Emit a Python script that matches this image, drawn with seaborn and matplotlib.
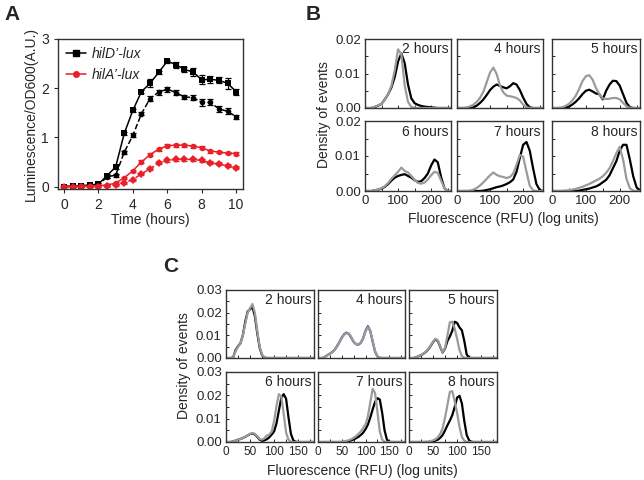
import matplotlib
matplotlib.use("Agg")
import matplotlib.pyplot as plt
from matplotlib.lines import Line2D
from matplotlib.ticker import MultipleLocator
import seaborn as sns

# ---- data -------------------------------------------------------------
# Panel A: luminescence time course
time_h = [0, 0.5, 1, 1.5, 2, 2.5, 3, 3.5, 4, 4.5, 5, 5.5, 6, 6.5, 7, 7.5, 8, 8.5, 9, 9.5, 10]
hilD_solid = [0.0, 0.01, 0.02, 0.03, 0.05, 0.22, 0.40, 1.08, 1.55, 1.93, 2.10, 2.32, 2.55, 2.48,
              2.38, 2.33, 2.17, 2.18, 2.16, 2.10, 1.93]
hilD_solid_err = [0.01, 0.01, 0.01, 0.01, 0.02, 0.04, 0.04, 0.03, 0.03, 0.03, 0.08, 0.03, 0.03, 0.06,
                  0.05, 0.08, 0.09, 0.07, 0.06, 0.11, 0.06]
hilD_dash = [0.0, 0.0, 0.01, 0.02, 0.03, 0.20, 0.23, 0.70, 1.04, 1.48, 1.79, 1.92, 1.98, 1.91,
             1.82, 1.81, 1.71, 1.71, 1.58, 1.53, 1.42]
hilD_dash_err = [0.01, 0.01, 0.01, 0.01, 0.01, 0.03, 0.03, 0.03, 0.04, 0.03, 0.06, 0.05, 0.05, 0.05,
                 0.05, 0.06, 0.07, 0.06, 0.06, 0.06, 0.04]
hilA_solid = [0.0, 0.0, 0.01, 0.01, 0.02, 0.03, 0.07, 0.18, 0.32, 0.50, 0.65, 0.76, 0.83, 0.84,
              0.84, 0.82, 0.79, 0.72, 0.70, 0.68, 0.67]
hilA_solid_err = [0.01, 0.01, 0.01, 0.01, 0.01, 0.01, 0.02, 0.02, 0.02, 0.03, 0.03, 0.03, 0.03, 0.03,
                  0.03, 0.03, 0.03, 0.03, 0.02, 0.02, 0.03]
hilA_dash = [0.0, 0.0, 0.0, 0.0, 0.0, 0.01, 0.04, 0.08, 0.14, 0.26, 0.36, 0.48, 0.53, 0.55,
             0.55, 0.55, 0.53, 0.48, 0.46, 0.42, 0.38]
hilA_dash_err = [0.01, 0.01, 0.01, 0.01, 0.01, 0.01, 0.02, 0.02, 0.02, 0.02, 0.03, 0.03, 0.03, 0.03,
                 0.03, 0.03, 0.03, 0.03, 0.03, 0.03, 0.03]

# Panel B: flow histograms, fluorescence 0..260 step 10
fluo_B = list(range(0, 261, 10))
hours_B = ["2 hours", "4 hours", "5 hours", "6 hours", "7 hours", "8 hours"]
black_B = [
    [0, 0, 0, 0.0003, 0.0007, 0.0012, 0.0025, 0.004, 0.006, 0.009, 0.0135, 0.0158, 0.013, 0.0068,
     0.0028, 0.0014, 0.0009, 0.0006, 0.0004, 0.0003, 0.0002, 0.0001, 0, 0, 0, 0, 0],
    [0, 0, 0, 0, 0, 0.0002, 0.0007, 0.0015, 0.0025, 0.0038, 0.0052, 0.0062, 0.0068, 0.0064,
     0.006, 0.0057, 0.0063, 0.0072, 0.0068, 0.0052, 0.003, 0.0012, 0.0002, 0, 0, 0, 0],
    [0, 0, 0, 0, 0.0001, 0.0004, 0.001, 0.0018, 0.0028, 0.004, 0.005, 0.0053, 0.0048, 0.0042,
     0.004, 0.0025, 0.005, 0.0068, 0.0079, 0.0078, 0.0065, 0.004, 0.0015, 0.0002, 0, 0, 0],
    [0, 0, 0, 0.0002, 0.0004, 0.0007, 0.0012, 0.002, 0.003, 0.0038, 0.0043, 0.0046, 0.0048, 0.0043,
     0.0038, 0.0031, 0.0026, 0.0028, 0.0037, 0.005, 0.0073, 0.009, 0.0082, 0.004, 0.0008, 0, 0],
    [0, 0, 0, 0, 0, 0, 0, 0, 0.0001, 0.0003, 0.0005, 0.0008, 0.0011, 0.0013,
     0.0016, 0.002, 0.0025, 0.0033, 0.0055, 0.0095, 0.0132, 0.014, 0.0115, 0.0065, 0.002, 0.0003, 0],
    [0, 0, 0, 0, 0, 0, 0, 0, 0.0001, 0.0003, 0.0005, 0.0007, 0.001, 0.0013,
     0.0018, 0.0025, 0.0032, 0.0045, 0.0065, 0.0085, 0.0115, 0.0132, 0.0132, 0.009, 0.0042, 0.001, 0.0002],
]
gray_B = [
    [0, 0, 0, 0.0004, 0.0008, 0.0012, 0.0024, 0.004, 0.0065, 0.011, 0.017, 0.0155, 0.0065, 0.0018,
     0.0003, 0.0001, 0, 0, 0, 0, 0, 0, 0, 0, 0, 0, 0],
    [0, 0, 0, 0.0002, 0.0005, 0.001, 0.0018, 0.003, 0.0048, 0.0075, 0.0103, 0.0117, 0.0098, 0.0065,
     0.0045, 0.0036, 0.0034, 0.0032, 0.0029, 0.0022, 0.001, 0.0002, 0, 0, 0, 0, 0],
    [0, 0, 0, 0.0002, 0.0006, 0.0012, 0.0022, 0.0035, 0.0055, 0.0078, 0.0092, 0.0095, 0.0082, 0.0058,
     0.004, 0.0028, 0.0026, 0.0027, 0.0029, 0.0029, 0.0025, 0.0015, 0.0005, 0, 0, 0, 0],
    [0, 0, 0, 0.0002, 0.0004, 0.0008, 0.0014, 0.0023, 0.0035, 0.0045, 0.0055, 0.0067, 0.0057, 0.0053,
     0.0043, 0.0032, 0.0023, 0.0021, 0.0024, 0.0033, 0.0045, 0.0055, 0.0052, 0.003, 0.0008, 0, 0],
    [0, 0, 0, 0, 0.0001, 0.0004, 0.0009, 0.0016, 0.0025, 0.0035, 0.0045, 0.0053, 0.0046, 0.0042,
     0.004, 0.0037, 0.004, 0.005, 0.0075, 0.0103, 0.0098, 0.0055, 0.0015, 0.0002, 0, 0, 0],
    [0, 0, 0, 0, 0.0001, 0.0002, 0.0004, 0.0006, 0.0009, 0.0012, 0.0016, 0.002, 0.0025, 0.003,
     0.0035, 0.0042, 0.0052, 0.0065, 0.0085, 0.0108, 0.0126, 0.009, 0.0035, 0.0008, 0.0001, 0, 0],
]

# Panel C: flow histograms, fluorescence 0..185 step 5
fluo_C = list(range(0, 186, 5))
hours_C = ["2 hours", "4 hours", "5 hours", "6 hours", "7 hours", "8 hours"]
black_C = [
    [0, 0, 0, 0.0003, 0.0035, 0.0052, 0.0065, 0.01, 0.016, 0.0205, 0.0215, 0.0225, 0.0185, 0.011,
     0.0045, 0.0012, 0.0002] + [0] * 21,
    [0, 0, 0, 0.0006, 0.0013, 0.0019, 0.0026, 0.0036, 0.0052, 0.007, 0.009, 0.0105, 0.0112, 0.0106,
     0.009, 0.0071, 0.0061, 0.0059, 0.0067, 0.0087, 0.012, 0.014, 0.0118, 0.0072, 0.0028, 0.0007,
     0.0001] + [0] * 11,
    [0, 0, 0, 0.0003, 0.0008, 0.0012, 0.0019, 0.0027, 0.0038, 0.0053, 0.007, 0.0082, 0.0075, 0.0048,
     0.0024, 0.0042, 0.0075, 0.0095, 0.012, 0.016, 0.0155, 0.0135, 0.0122, 0.0075, 0.0015, 0.0002]
    + [0] * 12,
    [0, 0, 0, 0.0003, 0.0006, 0.001, 0.0013, 0.0017, 0.0022, 0.0028, 0.0034, 0.0036, 0.0033, 0.0022,
     0.001, 0.0005, 0.0007, 0.0012, 0.002, 0.0032, 0.0045, 0.008, 0.0135, 0.019, 0.0205, 0.0185,
     0.0105, 0.0035, 0.0007, 0.0001] + [0] * 8,
    [0] * 12 + [0.0002, 0.0004, 0.0007, 0.0011, 0.0016, 0.0022, 0.003, 0.004, 0.0055, 0.0075, 0.0105,
                0.014, 0.0172, 0.0188, 0.0182, 0.0125, 0.005, 0.001, 0.0001] + [0] * 7,
    [0] * 9 + [0.0001, 0.0003, 0.0006, 0.001, 0.0018, 0.003, 0.005, 0.0072, 0.0092, 0.0115, 0.015,
               0.019, 0.0198, 0.0165, 0.009, 0.003, 0.0007, 0.0001] + [0] * 11,
]
gray_C = [
    [0, 0, 0, 0.0003, 0.003, 0.005, 0.0065, 0.01, 0.015, 0.02, 0.022, 0.0238, 0.02, 0.012,
     0.005, 0.0015, 0.0002] + [0] * 21,
    [0, 0, 0, 0.0005, 0.0012, 0.0018, 0.0025, 0.0035, 0.005, 0.0068, 0.0088, 0.0103, 0.011, 0.0108,
     0.0092, 0.0072, 0.0062, 0.006, 0.0068, 0.0088, 0.0118, 0.0136, 0.012, 0.0075, 0.003, 0.0008,
     0.0001] + [0] * 11,
    [0, 0, 0, 0.0003, 0.0008, 0.0013, 0.002, 0.0028, 0.004, 0.0055, 0.0072, 0.0085, 0.0078, 0.005,
     0.0025, 0.0045, 0.01, 0.0158, 0.016, 0.013, 0.0085, 0.0035, 0.0008, 0.0001] + [0] * 14,
    [0, 0, 0, 0.0003, 0.0006, 0.001, 0.0013, 0.0017, 0.0022, 0.0028, 0.0035, 0.0038, 0.0035, 0.0025,
     0.0013, 0.001, 0.0016, 0.0028, 0.0032, 0.0045, 0.009, 0.0155, 0.0205, 0.0195, 0.012, 0.004,
     0.001, 0.0001] + [0] * 10,
    [0] * 10 + [0.0001, 0.0003, 0.0005, 0.0008, 0.0012, 0.0018, 0.0025, 0.0035, 0.0045, 0.006, 0.0075,
                0.011, 0.017, 0.0228, 0.021, 0.013, 0.0045, 0.001, 0.0001] + [0] * 9,
    [0] * 7 + [0.0001, 0.0002, 0.0004, 0.0007, 0.0012, 0.002, 0.0035, 0.006, 0.0105, 0.016, 0.0215,
               0.0218, 0.0175, 0.0125, 0.0065, 0.0022, 0.0005, 0.0001] + [0] * 13,
]

# ---- figure -----------------------------------------------------------
sns.set_style("ticks")
plt.rcParams['font.family'] = ['Liberation Sans', 'DejaVu Sans']
plt.rcParams['axes.edgecolor'] = '#333333'
plt.rcParams['axes.linewidth'] = 1.0

fig = plt.figure(figsize=(6.44, 4.80), dpi=100)
W, H = 644, 480
FS = 10       # labels
TFS = 9.5     # tick labels
RED = '#e8202a'
GREY = '#9b9b9b'


def box(l, t, r, b):
    return fig.add_axes([l / W, 1 - b / H, (r - l) / W, (b - t) / H])


# Panel A
axA = box(58, 39, 243, 189)
series = [
    (hilD_solid, hilD_solid_err, 'black', '-', 's'),
    (hilD_dash, hilD_dash_err, 'black', '--', 'o'),
    (hilA_solid, hilA_solid_err, RED, '-', 'o'),
    (hilA_dash, hilA_dash_err, RED, '--', 'D'),
]
for vals, err, col, ls, mk in series:
    axA.errorbar(time_h, vals, yerr=err, fmt='none', ecolor=col, elinewidth=0.9, capsize=2, capthick=0.9)
    sns.lineplot(x=time_h, y=vals, color=col, linestyle=ls, marker=mk, markersize=4,
                 markeredgewidth=0, linewidth=1.1, ax=axA)
axA.set_xlim(-0.35, 10.4)
axA.set_ylim(-0.05, 3.0)
axA.set_xticks([0, 2, 4, 6, 8, 10])
axA.set_yticks([0, 1, 2, 3])
axA.tick_params(labelsize=FS, length=3, width=0.8)
axA.set_xlabel('Time (hours)', fontsize=FS, labelpad=1)
axA.set_ylabel('Luminescence/OD600(A.U.)', fontsize=FS, labelpad=2)
handles = [Line2D([], [], color='black', marker='s', markersize=4, lw=1.1),
           Line2D([], [], color=RED, marker='o', markersize=4, lw=1.1)]
leg = axA.legend(handles, ["hilD\u2019-lux", "hilA\u2019-lux"], loc='upper left', frameon=False,
                 fontsize=FS, handlelength=1.4, handletextpad=0.4, borderaxespad=0.2, labelspacing=0.45)
for t in leg.get_texts():
    t.set_style('italic')


def hist_grid(cols, rows, xs, blacks, grays, labels, xlim, ylim, yticks, ylabs, xticks,
              xminor, yminor, xfs, black_colors=None):
    axes = []
    for i in range(6):
        r, c = divmod(i, 3)
        ax = box(cols[c][0], rows[r][0], cols[c][1], rows[r][1])
        bc = 'black' if black_colors is None else black_colors[i]
        sns.lineplot(x=xs, y=blacks[i], color=bc, linewidth=1.6, ax=ax)
        sns.lineplot(x=xs, y=grays[i], color=GREY, linewidth=1.6, ax=ax)
        ax.set_xlim(*xlim)
        ax.set_ylim(*ylim)
        ax.set_yticks(yticks)
        ax.set_xticks(xticks)
        ax.xaxis.set_minor_locator(MultipleLocator(xminor))
        ax.yaxis.set_minor_locator(MultipleLocator(yminor))
        ax.tick_params(which='both', direction='in', length=2, width=0.7)
        ax.tick_params(axis='y', pad=3, labelsize=TFS)
        ax.tick_params(axis='x', pad=3, labelsize=xfs)
        if c == 0:
            ax.set_yticklabels(ylabs)
        else:
            ax.set_yticklabels([])
        if r == 0:
            ax.set_xticklabels([])
        ax.text(0.97, 0.95, labels[i], transform=ax.transAxes, ha='right', va='top', fontsize=FS)
        axes.append(ax)
    return axes


hist_grid([(365, 451), (457, 543), (552, 640)], [(39, 108), (121, 191)], fluo_B, black_B, gray_B,
          hours_B, (0, 260), (0, 0.02), [0, 0.01, 0.02], ['0.00', '0.01', '0.02'], [0, 100, 200],
          50, 0.005, TFS)
fig.text(324 / W, 1 - 115 / H, 'Density of events', rotation=90, ha='center', va='center', fontsize=FS)
fig.text(503 / W, 1 - 219 / H, 'Fluorescence (RFU) (log units)', ha='center', va='center', fontsize=FS)

navy = ['black', '#2a2a80', 'black', 'black', 'black', 'black']
hist_grid([(226, 314), (318, 405), (409, 497)], [(290, 358), (372, 442)], fluo_C, black_C, gray_C,
          hours_C, (0, 183), (0, 0.03), [0, 0.01, 0.02, 0.03], ['0.00', '0.01', '0.02', '0.03'],
          [0, 50, 100, 150], 25, 0.005, 8.5, black_colors=navy)
fig.text(184 / W, 1 - 366 / H, 'Density of events', rotation=90, ha='center', va='center', fontsize=FS)
fig.text(362 / W, 1 - 471 / H, 'Fluorescence (RFU) (log units)', ha='center', va='center', fontsize=FS)

# panel letters
for letter, x, y in [('A', 4, 14), ('B', 306, 14), ('C', 163, 266)]:
    fig.text(x / W, 1 - y / H, letter, fontsize=15, fontweight='bold', ha='left', va='center')

fig.savefig('out.png', dpi=100)
